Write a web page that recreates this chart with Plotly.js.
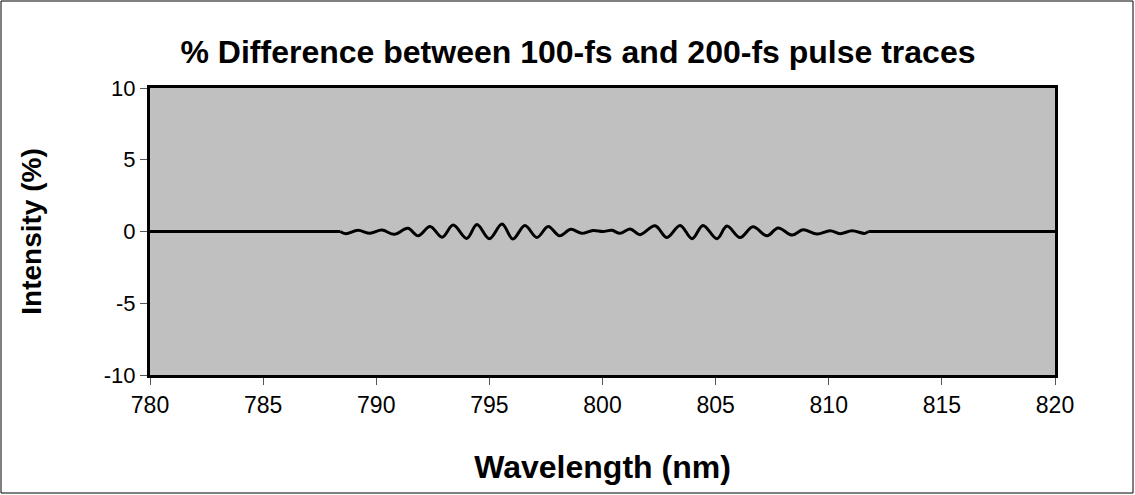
<!DOCTYPE html>
<html>
<head>
<meta charset="utf-8">
<script src="https://cdn.plot.ly/plotly-3.0.1.min.js"></script>
<style>
  html, body { margin: 0; padding: 0; background: #fff; }
  #chart { width: 1135px; height: 495px; }
</style>
</head>
<body>
<div id="chart"></div>
<script>
// Wavelength (nm) and % difference
const flatLeftX = [780, 788.4];
const flatLeftY = [0, 0];
const wavelength = [
  788.4, 788.66, 789.19, 789.72, 790.25, 790.8, 791.4, 791.85, 792.38,
  792.91, 793.4, 794.0, 794.45, 795.0, 795.56, 796.04, 796.57, 797.1, 797.6,
  798.1, 798.6, 799.09, 799.58, 800.02, 800.42, 800.77, 801.22, 801.66, 802.32,
  802.85, 803.43, 803.96, 804.44, 805.06, 805.5, 806.08, 806.65, 807.27, 807.76,
  808.38, 808.86, 809.48, 810.06, 810.5, 811.03, 811.6, 811.75
];
const difference = [
  0, -0.15, 0.08, -0.12, 0.1, -0.2, 0.22, -0.3, 0.35,
  -0.4, 0.45, -0.48, 0.48, -0.5, 0.52, -0.52, 0.42, -0.42, 0.35,
  -0.3, 0.15, -0.13, 0.07, 0, 0.08, -0.13, 0.18, -0.22, 0.4,
  -0.42, 0.42, -0.5, 0.42, -0.5, 0.38, -0.42, 0.33, -0.3, 0.25,
  -0.25, 0.12, -0.18, 0.05, -0.15, 0.05, -0.13, 0
];
const flatRightX = [811.75, 820];
const flatRightY = [0, 0];
const xTicks = [780, 785, 790, 795, 800, 805, 810, 815, 820];
const yTicks = [-10, -5, 0, 5, 10];

const font = "Liberation Sans, Arial, sans-serif";
const lineStyle = { color: "#000000", width: 3 };

const traces = [
  { x: flatLeftX, y: flatLeftY, type: "scatter", mode: "lines", line: lineStyle },
  { x: wavelength, y: difference, type: "scatter", mode: "lines",
    line: Object.assign({}, lineStyle, { shape: "spline", smoothing: 1 }) },
  { x: flatRightX, y: flatRightY, type: "scatter", mode: "lines", line: lineStyle }
];

const W = 1135, H = 495, ml = 150, mr = 80, mt = 88, mb = 120;
const pw = W - ml - mr, ph = H - mt - mb;
const px = v => (v - ml) / pw;
const py = v => (H - mb - v) / ph;

const layout = {
  width: W,
  height: H,
  margin: { l: ml, r: mr, t: mt, b: mb, pad: 0 },
  paper_bgcolor: "#ffffff",
  plot_bgcolor: "#c0c0c0",
  showlegend: false,
  title: {
    text: "<b>% Difference between 100-fs and 200-fs pulse traces</b>",
    font: { family: font, size: 32, color: "#000" },
    x: 578 / W, xref: "container", xanchor: "center",
    y: 1 - 52 / H, yref: "container", yanchor: "middle"
  },
  xaxis: {
    range: [780, 820],
    tickvals: xTicks,
    ticktext: xTicks.map(String),
    ticks: "outside",
    ticklen: 7,
    tickwidth: 1,
    tickcolor: "#555",
    tickfont: { family: font, size: 23, color: "#000" },
    showgrid: false,
    zeroline: false,
    showline: true,
    linecolor: "#000",
    linewidth: 3,
    mirror: true,
    title: {
      text: "<b>Wavelength (nm)</b>",
      font: { family: font, size: 32, color: "#000" },
      standoff: 40
    }
  },
  yaxis: {
    range: [-10, 10],
    tickvals: yTicks,
    ticktext: yTicks.map(String),
    ticks: "outside",
    ticklen: 7,
    tickwidth: 1,
    tickcolor: "#555",
    tickfont: { family: font, size: 22, color: "#000" },
    showgrid: false,
    zeroline: false,
    showline: true,
    linecolor: "#000",
    linewidth: 3,
    mirror: true,
    title: {
      text: "<b>Intensity (%)</b>",
      font: { family: font, size: 28, color: "#000" },
      standoff: 55
    }
  },
  shapes: [{
    type: "rect",
    xref: "paper", yref: "paper",
    x0: px(1), x1: px(1133), y0: py(493), y1: py(1),
    line: { color: "#000", width: 1 },
    fillcolor: "rgba(0,0,0,0)",
    layer: "below"
  }]
};

Plotly.newPlot("chart", traces, layout, { displayModeBar: false, staticPlot: true });
</script>
</body>
</html>
